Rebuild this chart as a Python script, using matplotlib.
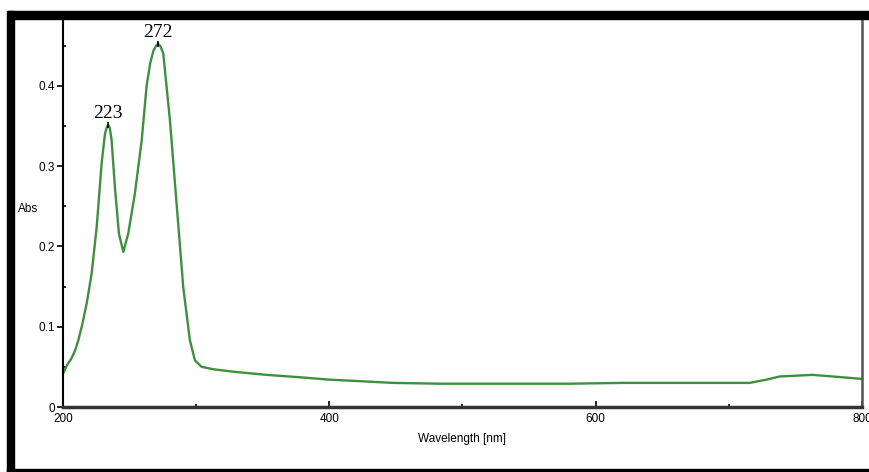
import numpy as np
import matplotlib.pyplot as plt
from matplotlib.patches import Rectangle
from matplotlib.ticker import MultipleLocator

# spectrum
wavelength = [200.2, 203.0, 206.5, 209.0, 211.5, 214.5, 217.8, 221.5, 225.3, 229.0,
              231.5, 233.0, 234.0, 235.2, 236.5, 239.0, 242.0, 245.3, 249.0, 254.0,
              259.1, 262.8, 265.5, 267.8, 270.0, 271.5, 273.2, 275.3, 280.3, 285.3,
              290.3, 295.3, 299.1, 304.1, 312.8, 327.6, 352.9, 377.9, 400.4, 425.0,
              447.7, 483.0, 530.0, 580.0, 620.0, 680.0, 715.6, 728.1, 738.1, 762.9,
              777.9, 800.0]
absorbance = [0.042, 0.052, 0.061, 0.070, 0.083, 0.103, 0.129, 0.166, 0.224, 0.303,
              0.340, 0.349, 0.351, 0.347, 0.332, 0.273, 0.216, 0.193, 0.216, 0.266,
              0.332, 0.400, 0.428, 0.443, 0.450, 0.452, 0.449, 0.440, 0.357, 0.253,
              0.149, 0.083, 0.058, 0.050, 0.047, 0.044, 0.040, 0.037, 0.034, 0.032,
              0.030, 0.029, 0.029, 0.029, 0.030, 0.030, 0.030, 0.034, 0.038, 0.040,
              0.038, 0.035]
peak_wl = [234.0, 271.5]
peak_abs = [0.351, 0.452]
peak_labels = ["223", "272"]

W, H = 870, 472
fig = plt.figure(figsize=(W / 100, H / 100), dpi=100)
fig.patch.set_facecolor("white")
ax = fig.add_axes([63 / W, 1 - 407 / H, (862 - 63) / W, (407 - 19) / H])

ax.plot(wavelength, absorbance, color="#3f8f3f", lw=1.7)
ax.plot(peak_wl, peak_abs, ls="none", marker="|", color="black", ms=4, mew=1.2)
for xw, ya, lab in zip(peak_wl, peak_abs, peak_labels):
    ax.annotate(lab, (xw, ya), xytext=(0, 2), textcoords="offset points",
                ha="center", va="bottom", family="Liberation Serif", fontsize=14)

ax.set_xlim(200, 800)
ax.set_ylim(0, 0.483)
ax.set_xticks([200, 400, 600, 800])
ax.set_yticks([0, 0.1, 0.2, 0.3, 0.4])
ax.set_yticklabels(["0", "0.1", "0.2", "0.3", "0.4"])
ax.xaxis.set_minor_locator(MultipleLocator(100))
ax.yaxis.set_minor_locator(MultipleLocator(0.05))
ax.tick_params(axis="y", which="major", direction="out", length=4, width=1.2,
               labelsize=8.5, pad=2)
ax.tick_params(axis="y", which="minor", direction="in", length=2, width=1.2)
ax.tick_params(axis="x", which="major", direction="in", length=4, width=1.2,
               labelsize=8.5, pad=4)
ax.tick_params(axis="x", which="minor", direction="in", length=2, width=1.2)
for lab in ax.get_xticklabels() + ax.get_yticklabels():
    lab.set_family("Liberation Sans")

ax.set_xlabel("Wavelength [nm]", family="Liberation Sans", fontsize=8.5, labelpad=6)
ax.set_ylabel("Abs", family="Liberation Sans", fontsize=8.5, rotation=0)
ax.yaxis.set_label_coords(-0.044, 0.495)

ax.spines["top"].set_visible(False)
ax.spines["left"].set_linewidth(1.5)
ax.spines["bottom"].set_linewidth(2.5)
ax.spines["bottom"].set_color("#333333")
ax.spines["right"].set_linewidth(1.8)
ax.spines["right"].set_color("#555555")

# thick black frame around the picture
def px_rect(x0, y0, x1, y1):
    fig.patches.append(Rectangle((x0 / W, 1 - y1 / H), (x1 - x0) / W, (y1 - y0) / H,
                                 transform=fig.transFigure, color="black", zorder=5))

px_rect(8, 11, W, 19)
px_rect(7, 11, 14, H)
px_rect(7, 469, W, 471)

fig.savefig("out.png", dpi=100)
